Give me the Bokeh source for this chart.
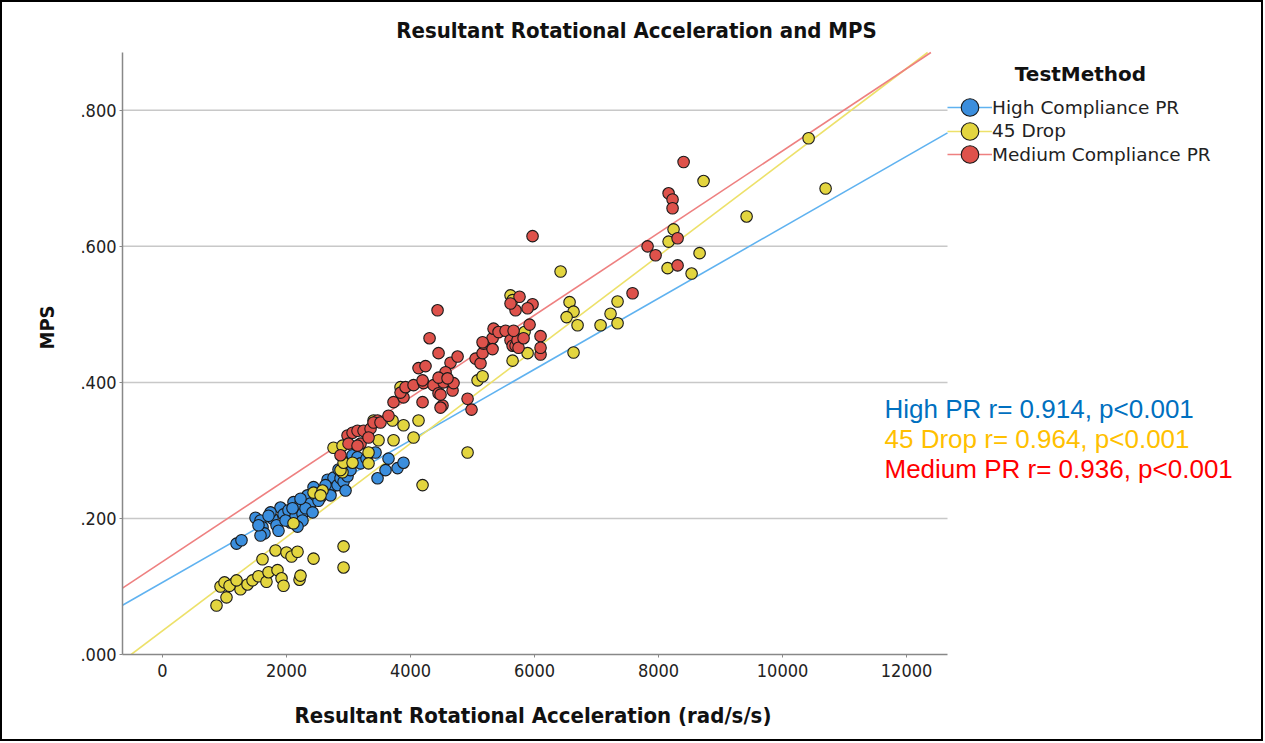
from bokeh.plotting import figure
from bokeh.models import Range1d, Label, Legend, LegendItem, FixedTicker, Title
from bokeh.embed import file_html
from bokeh.resources import INLINE

# ---------------- data ----------------
series_names = ["High Compliance PR", "45 Drop", "Medium Compliance PR"]
stat_names = ["High PR", "45 Drop", "Medium PR"]
r_values = [0.914, 0.964, 0.936]
p_text = "p<0.001"

high_x = [1194, 1274, 1500, 1581, 1613, 1645, 1581, 1774, 1839, 1903, 1952, 2032, 2065, 2113,
          2145, 2226, 2258, 2258, 2178, 2339, 2387, 2436, 2468, 2549, 2597, 2662, 2710, 2758,
          2823, 2839, 2871, 2920, 2984, 3032, 3065, 3145, 3194, 3290, 3436, 3468, 3597, 3645,
          3791, 3887, 1742, 1984, 2307, 2516, 2629, 1710, 2097, 2226, 3032, 2952, 2710, 2420,
          1871, 1548]
high_y = [0.163, 0.168, 0.201, 0.197, 0.187, 0.178, 0.175, 0.200, 0.190, 0.216, 0.206, 0.212,
          0.194, 0.224, 0.203, 0.222, 0.207, 0.197, 0.188, 0.234, 0.222, 0.246, 0.234, 0.231,
          0.238, 0.257, 0.243, 0.260, 0.249, 0.272, 0.259, 0.254, 0.262, 0.285, 0.293, 0.290,
          0.281, 0.288, 0.297, 0.259, 0.271, 0.288, 0.274, 0.282, 0.209, 0.197, 0.215, 0.226,
          0.249, 0.204, 0.215, 0.229, 0.271, 0.241, 0.234, 0.209, 0.182, 0.190]

drop_x = [871, 1032, 936, 1000, 1145, 1258, 1371, 1452, 1548, 1677, 1710, 1855, 1920, 1952,
          2210, 2226, 1613, 1823, 2000, 2081, 2178, 2436, 2920, 2920, 1081, 1194,
          2113, 2436, 2581, 2903, 2871, 2920, 3065, 3323, 2758, 2903, 3323, 3484, 3726, 3710,
          3887, 4129, 4049, 3404, 3839, 4194, 4920, 5081, 5162, 5646, 5888, 5839, 6420, 6565,
          6629, 6517, 6694, 6629, 5613, 5646, 7065, 7226, 7339, 7339, 8146, 8533, 8662, 8162,
          8242, 9420, 8726, 10420, 10694, 2549]
drop_y = [0.072, 0.084, 0.100, 0.106, 0.104, 0.096, 0.103, 0.109, 0.115, 0.107, 0.121, 0.124,
          0.112, 0.101, 0.110, 0.116, 0.140, 0.153, 0.150, 0.144, 0.151, 0.141, 0.159, 0.128,
          0.101, 0.109,
          0.193, 0.238, 0.241, 0.268, 0.271, 0.282, 0.282, 0.297, 0.304, 0.307, 0.281, 0.315,
          0.315, 0.344, 0.337, 0.344, 0.319, 0.344, 0.393, 0.249, 0.297, 0.403, 0.409, 0.432,
          0.443, 0.474, 0.563, 0.518, 0.504, 0.496, 0.484, 0.444, 0.528, 0.521, 0.484, 0.501,
          0.487, 0.519, 0.568, 0.560, 0.590, 0.607, 0.625, 0.644, 0.696, 0.759, 0.685, 0.234]

med_x = [2871, 2984, 3065, 3145, 3307, 3194, 3000, 3242, 3355, 3323, 3468, 3404, 3516, 3645,
         3726, 3887, 3839, 3920, 4049, 4194, 4210, 4371, 4452, 4516, 4533, 4678, 4694, 4920,
         4984, 4436, 4307, 4452, 4129, 4242, 4645, 4759, 4565, 4452, 4597, 4194, 4484, 4484,
         5049, 5129, 5162, 5178, 5323, 5339, 5420, 5533, 5613, 5646, 5694, 5726, 5662, 5742,
         5823, 5920, 6097, 6097, 6097, 5758, 5968, 5888, 5694, 5613, 5323, 5162, 5968, 7581,
         7823, 7952, 8307, 8404, 8162, 8226, 8226, 8307, 3145]
med_y = [0.293, 0.322, 0.326, 0.329, 0.322, 0.310, 0.310, 0.329, 0.332, 0.319, 0.344, 0.341,
         0.341, 0.351, 0.371, 0.378, 0.385, 0.393, 0.396, 0.371, 0.399, 0.396, 0.384, 0.366,
         0.400, 0.388, 0.399, 0.376, 0.360, 0.506, 0.465, 0.443, 0.421, 0.424, 0.429, 0.438,
         0.415, 0.407, 0.406, 0.403, 0.382, 0.363, 0.435, 0.428, 0.443, 0.457, 0.465, 0.479,
         0.474, 0.476, 0.462, 0.454, 0.454, 0.462, 0.476, 0.451, 0.465, 0.485, 0.468, 0.441,
         0.451, 0.526, 0.515, 0.509, 0.506, 0.516, 0.449, 0.459, 0.615, 0.531, 0.600, 0.587,
         0.572, 0.724, 0.678, 0.669, 0.656, 0.612, 0.307]

# fit lines: y = intercept + slope * x
fit_intercept = [0.106, 0.0348, 0.1365]
fit_slope = [5.22e-5, 6.89e-5, 6.04e-5]

x_ticks = [0, 2000, 4000, 6000, 8000, 10000, 12000]
y_ticks = [0.0, 0.2, 0.4, 0.6, 0.8]
y_tick_labels = [".000", ".200", ".400", ".600", ".800"]
x_limits = (-645, 12660)
y_limits = (0.0, 0.885)

# ---------------- style / geometry ----------------
fill_colors = ["#3B8EDD", "#E3D53F", "#DE524B"]
line_colors = ["#5FB2F0", "#EDE16A", "#EE8080"]
stat_colors = ["#0070C0", "#FFC000", "#FF0000"]
NARROW = "Liberation Sans Narrow, DejaVu Sans Condensed, Roboto Condensed, sans-serif"
ARIAL = "Liberation Sans"
LEG = "DejaVu Sans"

W, H = 1263, 741
FL, FR, FT, FB = 122, 947, 52, 654   # axes box in pixels

# The drawing frame spans to the right and top edges of the canvas so that
# titles, legend and notes are not clipped; axes/grid are bounded to the box.
px_x = (FR - FL) / (x_limits[1] - x_limits[0])
px_y = (FB - FT) / (y_limits[1] - y_limits[0])
x_view = (x_limits[0], x_limits[0] + (W - FL) / px_x)
y_view = (y_limits[0], y_limits[0] + FB / px_y)

p = figure(width=W, height=H, x_range=Range1d(*x_view), y_range=Range1d(*y_view),
           output_backend="svg", toolbar_location=None,
           min_border_left=FL, min_border_right=0, min_border_top=0,
           min_border_bottom=H - FB)
p.outline_line_color = None
p.background_fill_color = None
p.border_fill_color = None
p.styles = {"box-shadow": "inset 0 0 0 2px #000000", "background-color": "white"}

p.xgrid.visible = False
p.ygrid.visible = False
# horizontal grid lines limited to the axes box
p.segment(x0=[x_limits[0]] * 4, y0=y_ticks[1:], x1=[x_limits[1]] * 4, y1=y_ticks[1:],
          line_color="#c8c8c8", line_width=1.5)

p.xaxis.ticker = FixedTicker(ticks=x_ticks)
p.yaxis.ticker = FixedTicker(ticks=y_ticks)
p.xaxis.bounds = x_limits
p.yaxis.bounds = y_limits
p.yaxis.major_label_overrides = {t: l for t, l in zip(y_ticks, y_tick_labels)}
for ax in (p.xaxis, p.yaxis):
    ax.axis_line_color = "#888888"
    ax.axis_line_width = 1.5
    ax.major_tick_line_color = "#888888"
    ax.major_tick_in = 0
    ax.major_tick_out = 3
    ax.minor_tick_line_color = None
    ax.major_label_text_font = NARROW
    ax.major_label_text_font_size = "18px"
    ax.major_label_text_color = "#222222"
    ax.axis_label_text_font = NARROW
    ax.axis_label_text_font_style = "bold"
    ax.axis_label_text_color = "#111111"
p.yaxis.axis_label_text_font_size = "20px"
p.xaxis.major_label_standoff = 6
p.yaxis.major_label_standoff = 3
p.yaxis.axis_label = "MPS"
p.yaxis.axis_label_standoff = 18
# blank spacer label so the x title sits lower
p.xaxis.axis_label = " "
p.xaxis.axis_label_text_font_size = "2px"
p.xaxis.axis_label_standoff = 14

# x-axis title, centred under the axes box
p.add_layout(Title(text="Resultant Rotational Acceleration (rad/s/s)", align="left",
                   offset=172, text_font=NARROW, vertical_align="bottom",
                   text_font_style="bold", text_font_size="22px", text_color="#111111",
                   standoff=4), "below")

xs_all = [high_x, drop_x, med_x]
ys_all = [high_y, drop_y, med_y]

line_renderers = []
for i in range(3):
    b, m = fit_intercept[i], fit_slope[i]
    x0 = max(x_limits[0], (y_limits[0] - b) / m)
    x1 = min(x_limits[1], (y_limits[1] - b) / m)
    r = p.line([x0, x1], [b + m * x0, b + m * x1], line_color=line_colors[i], line_width=1.6)
    line_renderers.append(r)

scatter_renderers = []
for i in range(3):
    r = p.scatter(xs_all[i], ys_all[i], size=11.5, marker="circle",
                  fill_color=fill_colors[i], line_color="#1a1a1a", line_width=1.1)
    scatter_renderers.append(r)

# one legend per entry so that large markers can sit on a tight row pitch
GLYPH = 44
row_centers = [107, 130.5, 154]
for i in range(3):
    lg = Legend(items=[LegendItem(label=series_names[i],
                                  renderers=[line_renderers[i], scatter_renderers[i]])],
                location=(FR - FL, FB - (row_centers[i] + GLYPH / 2)),
                border_line_color=None, background_fill_alpha=0, padding=0, margin=0,
                glyph_width=45, glyph_height=GLYPH, label_height=23, label_standoff=0,
                label_text_font=LEG, label_text_font_size="18.5px",
                label_text_color="#222222")
    p.add_layout(lg, "center")

# legend title
p.add_layout(Label(x=1080 - FL, y=FB - 73, x_units="screen", y_units="screen",
                   text="TestMethod", text_font=LEG, text_font_style="bold",
                   text_font_size="20px", text_align="center", text_baseline="middle",
                   text_color="#111111"))

# chart title
p.add_layout(Label(x=636 - FL, y=FB - 30, x_units="screen", y_units="screen",
                   text="Resultant Rotational Acceleration and MPS", text_font=NARROW,
                   text_font_style="bold", text_font_size="22px", text_align="center",
                   text_baseline="middle", text_color="#111111"))

# correlation annotations
for i in range(3):
    txt = f"{stat_names[i]} r= {r_values[i]:.3f}, {p_text}"
    p.add_layout(Label(x=884 - FL, y=FB - (408 + 30 * i), x_units="screen", y_units="screen",
                       text=txt, text_font=ARIAL, text_font_size="26px",
                       text_color=stat_colors[i], text_baseline="middle", text_align="left"))

open("out.html", "w").write(file_html(p, INLINE))
